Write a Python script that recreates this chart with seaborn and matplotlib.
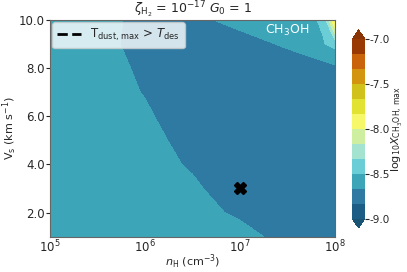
import seaborn as sns
import matplotlib.pyplot as plt
import numpy as np
from matplotlib.colors import ListedColormap

# grid: log10 nH (columns) and shock velocity (rows)
log_nH = [5.0, 5.5, 6.0, 6.5, 7.0, 7.5, 7.875, 8.0]
v_s = [1, 2, 3, 4, 5, 6, 7, 8, 9, 10]

# log10 X(CH3OH) max, one row per shock velocity
x_v1 = [-8.58, -8.58, -8.58, -8.58, -8.60, -8.733, -8.76, -8.76]
x_v2 = [-8.58, -8.58, -8.58, -8.60, -8.699, -8.76, -8.76, -8.76]
x_v3 = [-8.58, -8.58, -8.59, -8.639, -8.76, -8.77, -8.77, -8.77]
x_v4 = [-8.58, -8.58, -8.60, -8.686, -8.77, -8.78, -8.78, -8.78]
x_v5 = [-8.58, -8.58, -8.60, -8.74, -8.78, -8.78, -8.78, -8.78]
x_v6 = [-8.58, -8.59, -8.646, -8.75, -8.78, -8.78, -8.78, -8.77]
x_v7 = [-8.58, -8.60, -8.674, -8.76, -8.78, -8.78, -8.77, -8.76]
x_v8 = [-8.58, -8.59, -8.70, -8.76, -8.77, -8.75, -8.734, -8.702]
x_v9 = [-8.58, -8.609, -8.73, -8.75, -8.727, -8.646, -8.51, -8.45]
x_v10 = [-8.58, -8.605, -8.72, -8.704, -8.62, -8.60, -8.48, -7.80]

cbar_ticks = [-9.0, -8.5, -8.0, -7.5, -7.0]
x_ticks = [5, 6, 7, 8]
marker_nH, marker_vs = [7.0], [3.0]

Z = np.array([x_v1, x_v2, x_v3, x_v4, x_v5, x_v6, x_v7, x_v8, x_v9, x_v10])

sns.set_style('ticks')
plt.rcParams['font.family'] = ['DejaVu Sans']
plt.rcParams['axes.unicode_minus'] = False

colours = ['#1c5d86', '#2e7aa3', '#3ca6b8', '#6bcdd6', '#a4e3d0', '#cdef9f',
           '#f7f76a', '#e2e232', '#d1c11b', '#d39510', '#c9640a', '#993a05']
cmap = ListedColormap(colours)
cmap.set_under('#1a5475')
cmap.set_over('#8a3405')

fig = plt.figure(figsize=(4.07, 2.72), dpi=100)
ax = fig.add_axes([0.123, 0.13, 0.700, 0.7965])
cax = fig.add_axes([0.866, 0.162, 0.030, 0.728])

levels = np.linspace(-9, -7, 13)
cs = ax.contourf(log_nH, v_s, Z, levels=levels, cmap=cmap, extend='both')
ax.plot(marker_nH, marker_vs, marker='X', color='black', markersize=8, linestyle='none')
ax.plot([], [], 'k--', lw=2, label=r'T$_{\rm dust,\, max}$ > $T_{\rm des}$')

ax.set_xlim(5, 8)
ax.set_ylim(1, 10)
ax.set_xticks(x_ticks)
ax.set_xticklabels([r'$10^{%d}$' % t for t in x_ticks])
ax.set_yticks([2, 4, 6, 8, 10])
ax.set_yticklabels(['2.0', '4.0', '6.0', '8.0', '10.0'])
ax.tick_params(axis='x', length=0, labelsize=8.5, pad=1.5)
ax.tick_params(axis='y', length=3, labelsize=8.5, pad=1)
for s in ax.spines.values():
    s.set_color('#666666')
    s.set_linewidth(0.8)

ax.set_xlabel(r'$n_{\rm H}$ (cm$^{-3}$)', fontsize=8, labelpad=-1.5)
ax.set_ylabel(r'V$_{\rm s}$ (km s$^{-1}$)', fontsize=8, labelpad=0)
ax.set_title(r'$\zeta_{\rm H_2}$ = $10^{-17}$ $G_0$ = 1', fontsize=9, pad=4)
ax.text(7.5, 9.55, r'CH$_3$OH', color='white', fontsize=9, ha='center', va='center')
leg = ax.legend(loc='upper left', fontsize=8.5, frameon=True, borderaxespad=0.2,
                handlelength=2.0, borderpad=0.4)
leg.get_frame().set_facecolor('white')
leg.get_frame().set_alpha(0.8)

cb = fig.colorbar(cs, cax=cax, ticks=cbar_ticks)
cb.ax.set_yticklabels(['%.1f' % t for t in cbar_ticks])
cb.ax.tick_params(labelsize=7.5, length=3, pad=0.5)
cb.outline.set_visible(False)
cb.set_label(r'log$_{10}X_{\rm CH_3OH,\, max}$', fontsize=8, labelpad=0)

fig.savefig('out.png', dpi=100)
